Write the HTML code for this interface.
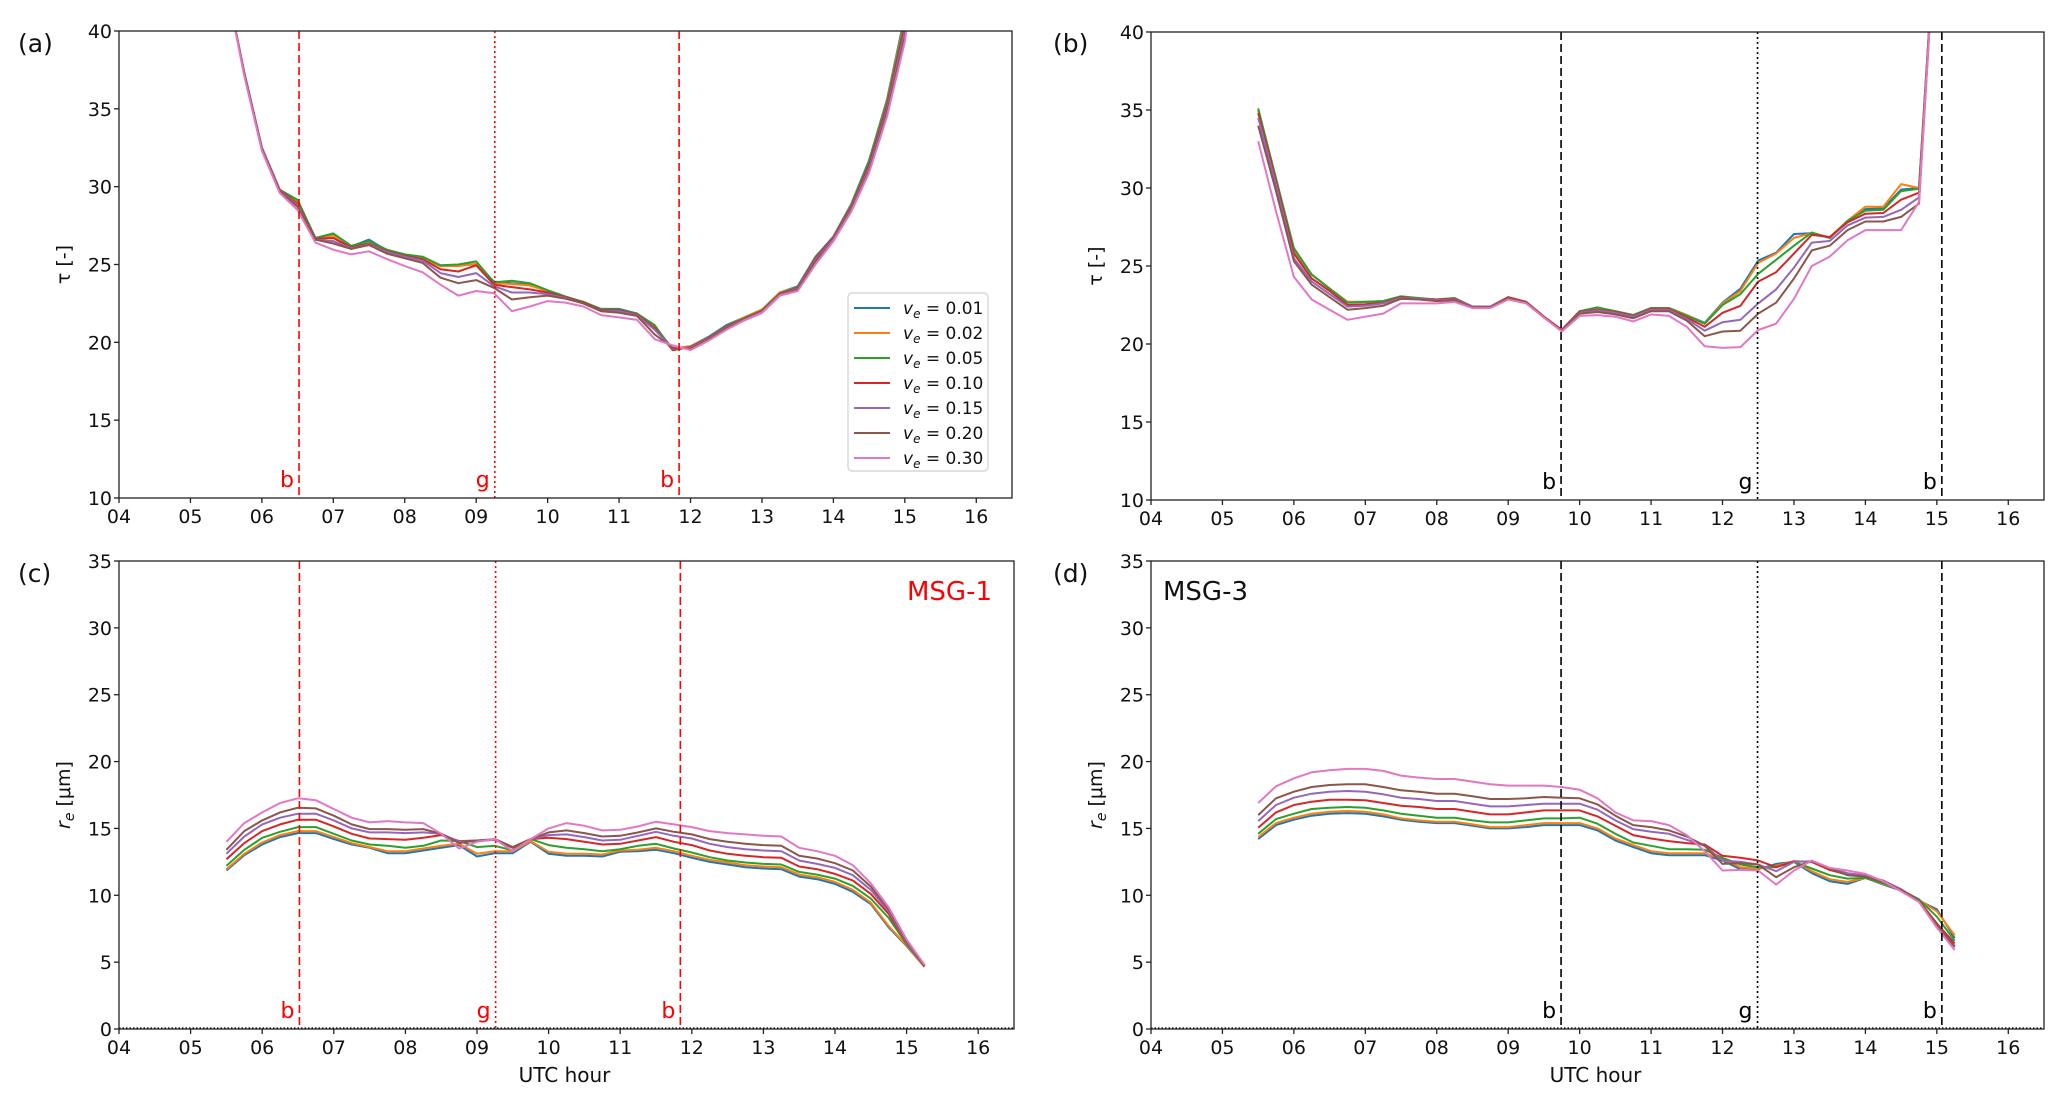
<!DOCTYPE html>
<html><head><meta charset="utf-8"><title>Retrieval diurnal cycle</title>
<style>
html,body{margin:0;padding:0;background:#fff;}
svg{display:block;font-family:"DejaVu Sans","Liberation Sans",sans-serif;}
</style></head>
<body>
<svg id="fig" width="2067" height="1105" viewBox="0 0 2067 1105" xmlns="http://www.w3.org/2000/svg"></svg>
<script>
const times = [5.5,5.75,6.0,6.25,6.5,6.75,7.0,7.25,7.5,7.75,8.0,8.25,8.5,8.75,9.0,9.25,9.5,9.75,10.0,10.25,10.5,10.75,11.0,11.25,11.5,11.75,12.0,12.25,12.5,12.75,13.0,13.25,13.5,13.75,14.0,14.25,14.5,14.75,15.0,15.25];
const legendLabels = ["0.01","0.02","0.05","0.10","0.15","0.20","0.30"];
const xTickLabels = ["04","05","06","07","08","09","10","11","12","13","14","15","16"];
const tauTicks = [10,15,20,25,30,35,40];
const reTicks = [0,5,10,15,20,25,30,35];

// (a) tau MSG-1
const a01 = [43,37.4,32.5,29.8,29.0,26.65,26.9,26.15,26.6,25.9,25.6,25.4,24.9,24.95,25.0,23.9,23.8,23.7,23.3,22.9,22.6,22.15,22.15,21.85,21.0,19.6,19.75,20.35,21.1,21.6,22.1,23.2,23.6,25.5,26.8,28.9,31.7,35.6,41,50];
const a02 = [43,37.4,32.5,29.8,29.05,26.65,26.85,26.15,26.5,25.9,25.6,25.4,24.9,24.9,25.05,23.8,23.75,23.65,23.3,22.9,22.6,22.1,22.1,21.8,21.0,19.6,19.75,20.3,21.05,21.6,22.1,23.2,23.55,25.45,26.75,28.85,31.6,35.5,40.8,50];
const a05 = [43,37.4,32.5,29.8,29.15,26.7,27.0,26.2,26.5,25.95,25.65,25.5,24.95,25.0,25.2,23.85,23.95,23.8,23.35,22.95,22.6,22.1,22.1,21.85,21.1,19.5,19.7,20.3,21.05,21.55,22.05,23.15,23.55,25.45,26.75,28.8,31.6,35.4,40.6,50];
const a10 = [43,37.4,32.5,29.8,28.9,26.65,26.7,26.1,26.35,25.85,25.55,25.35,24.7,24.55,24.95,23.7,23.55,23.4,23.2,22.9,22.55,22.05,22.05,21.8,20.9,19.5,19.7,20.25,21.0,21.5,22.0,23.1,23.5,25.4,26.7,28.7,31.4,35.2,40.3,50];
const a15 = [43,37.4,32.5,29.75,28.8,26.6,26.5,26.05,26.3,25.8,25.5,25.25,24.45,24.2,24.45,23.6,23.2,23.2,23.1,22.85,22.5,22.0,22.0,21.75,20.8,19.6,19.65,20.2,20.95,21.45,21.95,23.05,23.45,25.3,26.6,28.6,31.2,35.0,40.0,50];
const a20 = [43,37.3,32.4,29.7,28.7,26.6,26.35,26.0,26.25,25.7,25.4,25.1,24.15,23.8,24.0,23.5,22.75,22.9,23.0,22.8,22.5,22.0,21.9,21.7,20.5,19.65,19.6,20.15,20.9,21.4,21.9,23.0,23.4,25.2,26.5,28.5,31.0,34.8,39.6,50];
const a30 = [43,37.2,32.3,29.6,28.5,26.4,25.95,25.65,25.85,25.35,24.9,24.5,23.7,23.0,23.3,23.15,22.0,22.3,22.65,22.55,22.3,21.75,21.6,21.45,20.2,19.8,19.5,20.1,20.8,21.4,21.9,23.0,23.3,25.0,26.5,28.4,30.9,34.5,39.3,48];

// (b) tau MSG-3
const b01 = [35.0,30.6,26.0,24.45,23.55,22.7,22.7,22.75,23.05,22.9,22.85,22.9,22.4,22.4,23.0,22.7,21.75,20.9,22.1,22.3,22.1,21.85,22.3,22.3,21.85,21.35,22.65,23.55,25.35,25.85,27.05,27.1,26.8,27.85,28.65,28.7,29.9,30.0,48,60];
const b02 = [35.0,30.6,26.05,24.45,23.55,22.7,22.7,22.75,23.05,22.9,22.85,22.9,22.4,22.4,23.0,22.7,21.75,20.9,22.1,22.3,22.1,21.85,22.3,22.3,21.85,21.3,22.6,23.4,25.2,25.8,26.8,27.1,26.85,27.9,28.8,28.8,30.25,30.0,48,60];
const b05 = [35.1,30.6,26.15,24.45,23.55,22.65,22.7,22.75,23.05,22.95,22.85,22.95,22.4,22.4,23.0,22.7,21.75,20.9,22.1,22.35,22.1,21.85,22.3,22.3,21.8,21.3,22.5,23.2,24.5,25.4,26.3,27.15,26.8,27.9,28.55,28.6,29.8,29.95,48,60];
const b10 = [34.8,30.4,25.8,24.2,23.4,22.5,22.55,22.65,23.0,22.9,22.85,22.9,22.4,22.4,23.0,22.7,21.75,20.9,22.05,22.2,22.05,21.8,22.25,22.25,21.7,21.1,22.0,22.45,24.0,24.6,25.8,27.0,26.85,27.8,28.35,28.4,29.25,29.7,48,60];
const b15 = [34.5,30.2,25.5,24.0,23.2,22.4,22.45,22.6,22.95,22.9,22.8,22.85,22.4,22.4,22.95,22.65,21.7,20.85,22.0,22.15,22.0,21.75,22.2,22.2,21.6,20.85,21.4,21.55,22.6,23.5,24.9,26.5,26.6,27.6,28.1,28.15,28.6,29.4,48,60];
const b20 = [34.0,29.8,25.3,23.8,23.0,22.2,22.3,22.45,22.9,22.85,22.75,22.8,22.35,22.35,22.95,22.65,21.7,20.85,21.95,22.05,21.9,21.65,22.1,22.1,21.5,20.5,20.8,20.85,21.95,22.65,24.2,26.0,26.3,27.3,27.85,27.85,28.15,29.0,48,60];
const b30 = [33.0,28.5,24.3,22.85,22.2,21.55,21.75,21.95,22.6,22.6,22.6,22.7,22.3,22.3,22.85,22.6,21.7,20.8,21.8,21.85,21.75,21.45,21.9,21.8,21.1,19.85,19.75,19.8,20.9,21.3,22.9,25.0,25.6,26.65,27.3,27.3,27.3,29.1,48,60];

// (c) r_e MSG-1
const c01 = [11.85,13.0,13.8,14.35,14.65,14.65,14.2,13.8,13.55,13.15,13.15,13.35,13.55,13.75,12.9,13.15,13.15,14.0,13.1,12.95,12.95,12.9,13.25,13.3,13.4,13.15,12.8,12.5,12.3,12.1,12.0,11.95,11.4,11.2,10.85,10.25,9.35,7.6,6.2,4.65];
const c02 = [11.95,13.1,13.95,14.5,14.8,14.8,14.35,13.9,13.6,13.3,13.3,13.5,13.7,13.85,13.1,13.3,13.3,14.05,13.25,13.1,13.1,13.05,13.35,13.4,13.55,13.3,12.95,12.65,12.45,12.25,12.15,12.1,11.55,11.35,11.0,10.4,9.45,7.7,6.25,4.65];
const c05 = [12.2,13.4,14.3,14.75,15.1,15.1,14.6,14.1,13.8,13.7,13.55,13.7,14.1,14.05,13.6,13.7,13.35,14.2,13.75,13.55,13.45,13.3,13.45,13.7,13.85,13.5,13.2,12.85,12.6,12.45,12.35,12.3,11.75,11.55,11.25,10.7,9.75,8.3,6.35,4.7];
const c10 = [12.7,13.9,14.8,15.3,15.65,15.65,15.15,14.6,14.25,14.2,14.15,14.3,14.5,14.05,14.1,14.15,13.55,14.2,14.3,14.2,14.0,13.8,13.85,14.1,14.35,14.0,13.75,13.35,13.1,12.95,12.85,12.8,12.15,11.95,11.6,11.1,10.1,8.6,6.45,4.7];
const c15 = [13.1,14.4,15.3,15.8,16.1,16.1,15.6,15.0,14.7,14.7,14.65,14.7,14.6,14.0,14.05,14.15,13.6,14.2,14.5,14.55,14.35,14.1,14.15,14.45,14.75,14.45,14.25,13.85,13.6,13.45,13.35,13.3,12.6,12.35,12.05,11.5,10.4,8.8,6.5,4.75];
const c20 = [13.4,14.8,15.6,16.2,16.55,16.5,15.95,15.3,14.95,14.95,14.9,14.95,14.6,13.9,14.1,14.2,13.6,14.2,14.7,14.85,14.65,14.4,14.45,14.7,15.0,14.75,14.55,14.2,14.0,13.85,13.75,13.7,12.95,12.75,12.4,11.85,10.65,8.95,6.6,4.75];
const c30 = [14.0,15.4,16.2,16.9,17.25,17.1,16.45,15.8,15.45,15.55,15.45,15.4,14.6,13.5,14.0,14.2,13.3,14.2,15.0,15.4,15.2,14.85,14.9,15.15,15.5,15.3,15.1,14.8,14.65,14.55,14.45,14.4,13.55,13.3,12.95,12.25,10.9,9.1,6.7,4.8];

// (d) r_e MSG-3
const d01 = [14.2,15.25,15.65,15.95,16.1,16.15,16.1,15.9,15.65,15.5,15.4,15.4,15.2,15.0,15.0,15.1,15.25,15.25,15.25,14.85,14.1,13.6,13.15,13.0,13.0,13.0,12.6,11.95,11.95,12.35,12.5,11.65,11.05,10.85,11.3,10.8,10.35,9.6,8.95,6.8];
const d02 = [14.35,15.4,15.8,16.1,16.25,16.3,16.25,16.05,15.75,15.6,15.5,15.5,15.3,15.1,15.1,15.25,15.4,15.4,15.4,15.0,14.25,13.75,13.3,13.15,13.15,13.15,12.7,12.1,12.0,12.2,12.55,11.8,11.2,11.0,11.3,10.85,10.4,9.65,8.8,7.0];
const d05 = [14.6,15.7,16.1,16.45,16.55,16.6,16.55,16.35,16.1,15.95,15.8,15.8,15.6,15.45,15.45,15.6,15.75,15.75,15.8,15.35,14.6,13.95,13.7,13.45,13.45,13.4,12.8,12.3,12.1,12.1,12.5,12.0,11.5,11.25,11.3,10.9,10.4,9.7,8.4,6.6];
const d10 = [15.05,16.2,16.75,17.0,17.15,17.15,17.1,16.9,16.7,16.6,16.45,16.45,16.25,16.05,16.05,16.2,16.35,16.35,16.35,15.9,15.2,14.5,14.25,14.05,13.9,13.8,12.95,12.8,12.6,12.1,12.55,12.5,11.9,11.55,11.45,11.1,10.45,9.6,7.9,6.4];
const d15 = [15.55,16.75,17.3,17.6,17.75,17.8,17.75,17.55,17.3,17.2,17.05,17.05,16.85,16.65,16.65,16.75,16.85,16.85,16.85,16.4,15.6,14.95,14.75,14.6,14.15,13.7,12.6,12.5,12.3,11.8,12.5,12.55,12.05,11.65,11.5,11.05,10.45,9.55,7.7,6.1];
const d20 = [16.0,17.25,17.75,18.1,18.25,18.3,18.3,18.1,17.85,17.75,17.6,17.6,17.4,17.2,17.2,17.25,17.35,17.3,17.25,16.8,15.95,15.25,15.1,14.85,14.4,13.7,12.35,12.4,12.3,11.35,12.1,12.55,12.0,11.5,11.4,11.0,10.4,9.6,7.8,6.2];
const d30 = [16.9,18.15,18.75,19.2,19.35,19.45,19.45,19.3,18.95,18.8,18.7,18.7,18.5,18.3,18.2,18.2,18.2,18.1,17.9,17.25,16.2,15.6,15.55,15.25,14.5,13.3,11.85,11.9,11.85,10.8,11.85,12.6,12.05,11.85,11.6,11.05,10.3,9.5,7.6,5.9];

// event lines (hours)
const msg1Events = [6.52, 9.26, 11.84];
const msg3Events = [9.74, 12.49, 15.07];
const eventTags = ["b","g","b"];

const colors = ["#1f77b4","#ff7f0e","#2ca02c","#d62728","#9467bd","#8c564b","#e377c2"];
const NS = "http://www.w3.org/2000/svg";
const svg = document.getElementById("fig");
function el(tag, attrs, parent, text){
  const e = document.createElementNS(NS, tag);
  for (const k in attrs) e.setAttribute(k, attrs[k]);
  if (text !== undefined) e.textContent = text;
  (parent || svg).appendChild(e);
  return e;
}

const panels = [
  {key:"a", L:119, R:1012, T:31, B:498, ymin:10, ymax:40, ticks:tauTicks, series:[a01,a02,a05,a10,a15,a20,a30], ev:msg1Events, evColor:"#ff0000", tag:"(a)", tagX:18, tagY:52, ylab:"tau", ylabX:70, xlab:false},
  {key:"b", L:1151, R:2044, T:32, B:500, ymin:10, ymax:40, ticks:tauTicks, series:[b01,b02,b05,b10,b15,b20,b30], ev:msg3Events, evColor:"#000000", tag:"(b)", tagX:1053, tagY:52, ylab:"tau", ylabX:1102, xlab:false},
  {key:"c", L:119, R:1014, T:561, B:1029, ymin:0, ymax:35, ticks:reTicks, series:[c01,c02,c05,c10,c15,c20,c30], ev:msg1Events, evColor:"#ff0000", tag:"(c)", tagX:18, tagY:582, ylab:"re", ylabX:70, xlab:true},
  {key:"d", L:1151, R:2044, T:561, B:1029, ymin:0, ymax:35, ticks:reTicks, series:[d01,d02,d05,d10,d15,d20,d30], ev:msg3Events, evColor:"#000000", tag:"(d)", tagX:1053, tagY:582, ylab:"re", ylabX:1102, xlab:true}
];

panels.forEach(p => {
  const g = el("g", {}, svg);
  
  
  const xs = h => p.L + (h - 4) / 12.5 * (p.R - p.L);
  const ys = v => p.B - (v - p.ymin) / (p.ymax - p.ymin) * (p.B - p.T);

  const cp = el("clipPath", {id:"clip-" + p.key}, g);
  el("rect", {x:p.L, y:p.T, width:p.R-p.L, height:p.B-p.T}, cp);

  // series
  const sg = el("g", {"clip-path":"url(#clip-" + p.key + ")"}, g);
  p.series.forEach((arr, si) => {
    let d = "";
    arr.forEach((v, i) => { d += (i ? "L" : "M") + xs(times[i]).toFixed(1) + "," + ys(v).toFixed(1); });
    const path = el("path", {d:d, fill:"none", stroke:colors[si], "stroke-width":2, "stroke-linejoin":"round"}, sg);
    
    
  });

  // zero dotted line for r_e panels
  if (p.ymin === 0) {
    const zl = el("line", {x1:p.L, x2:p.R, y1:ys(0)-1, y2:ys(0)-1, stroke:"#000", "stroke-width":1.2, "stroke-dasharray":"1.5,2"}, g);
    
    
  }

  // event lines
  p.ev.forEach((h, i) => {
    const dash = eventTags[i] === "g" ? "2,3" : "8,4";
    const ln = el("line", {x1:xs(h), x2:xs(h), y1:p.T, y2:p.B, stroke:p.evColor, "stroke-width":1.6, "stroke-dasharray":dash}, g);
    
    
    const t = el("text", {x:xs(h) - 5, y:p.B - 11, "text-anchor":"end", "font-size":22, fill:p.evColor}, g, eventTags[i]);
    
    
  });

  // frame
  const fr = el("rect", {x:p.L, y:p.T, width:p.R-p.L, height:p.B-p.T, fill:"none", stroke:"#222", "stroke-width":1.3}, g);
  
  

  // y ticks
  p.ticks.forEach(v => {
    el("line", {x1:p.L-5, x2:p.L, y1:ys(v), y2:ys(v), stroke:"#222", "stroke-width":1.3}, g);
    const t = el("text", {x:p.L-7, y:ys(v)+7, "text-anchor":"end", "font-size":19, fill:"#111"}, g, String(v));
    
    
  });
  // x ticks
  xTickLabels.forEach((lab, i) => {
    const x = xs(4 + i);
    el("line", {x1:x, x2:x, y1:p.B, y2:p.B+5, stroke:"#222", "stroke-width":1.3}, g);
    const t = el("text", {x:x, y:p.B+25, "text-anchor":"middle", "font-size":19, fill:"#111"}, g, lab);
    
    
  });

  // panel tag
  const tg = el("text", {x:p.tagX, y:p.tagY, "font-size":25, fill:"#111"}, g, p.tag);
  
  

  // y axis label
  const cy = (p.T + p.B) / 2;
  const yl = el("text", {x:p.ylabX, y:cy, "text-anchor":"middle", "font-size":19, fill:"#111", transform:"rotate(-90 " + p.ylabX + " " + cy + ")"}, g);
  
  
  if (p.ylab === "tau") {
    yl.textContent = "\u03c4 [-]";
  } else {
    el("tspan", {"font-style":"italic"}, yl, "r");
    el("tspan", {"font-style":"italic", "font-size":14, dy:4}, yl, "e");
    el("tspan", {dy:-4}, yl, " [\u03bcm]");
  }

  if (p.xlab) {
    const xl = el("text", {x:(p.L+p.R)/2 - 2, y:1082, "text-anchor":"middle", "font-size":20, fill:"#111"}, g, "UTC hour");
    
    
  }
});

// satellite labels
const s1 = el("text", {x:992, y:600, "text-anchor":"end", "font-size":26, fill:"#ff0000"}, svg, "MSG-1");


const s3 = el("text", {x:1163, y:600, "font-size":26, fill:"#111"}, svg, "MSG-3");



// legend in panel (a)
const lg = el("g", {}, svg);


el("rect", {x:848, y:293, width:140, height:178, rx:4, fill:"#fff", "fill-opacity":0.85, stroke:"#d0d0d0", "stroke-width":1.2}, lg);
legendLabels.forEach((lab, i) => {
  const y = 308 + i * 25;
  const ent = el("g", {}, lg);
  
  
  el("line", {x1:854, x2:890, y1:y, y2:y, stroke:colors[i], "stroke-width":2}, ent);
  const t = el("text", {x:903, y:y+6, "font-size":17, fill:"#111"}, ent);
  el("tspan", {"font-style":"italic"}, t, "v");
  el("tspan", {"font-style":"italic", "font-size":12, dy:4}, t, "e");
  el("tspan", {dy:-4}, t, " = " + lab);
});
</script>
</body></html>
